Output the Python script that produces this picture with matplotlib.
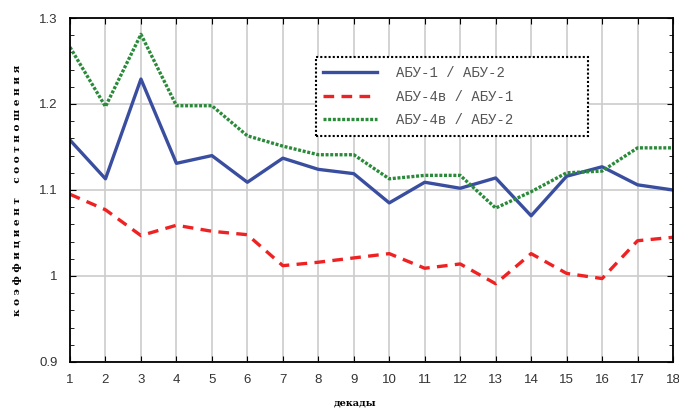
import matplotlib
matplotlib.use('Agg')
import matplotlib.pyplot as plt
from matplotlib.patches import Rectangle
from matplotlib.ticker import MultipleLocator

# декады
decades = list(range(1, 19))

abu1_abu2 = [1.158, 1.113, 1.229, 1.131, 1.140, 1.109, 1.137, 1.124, 1.119,
             1.085, 1.109, 1.102, 1.114, 1.070, 1.116, 1.127, 1.106, 1.100]
abu4v_abu1 = [1.095, 1.077, 1.047, 1.059, 1.052, 1.048, 1.012, 1.016, 1.021,
              1.026, 1.009, 1.014, 0.991, 1.026, 1.003, 0.997, 1.041, 1.045]
abu4v_abu2 = [1.266, 1.197, 1.281, 1.198, 1.198, 1.163, 1.151, 1.141, 1.141,
              1.113, 1.117, 1.117, 1.079, 1.098, 1.120, 1.122, 1.149, 1.149]

labels = ['АБУ-1 / АБУ-2', 'АБУ-4в / АБУ-1', 'АБУ-4в / АБУ-2']
yticks = [0.9, 1.0, 1.1, 1.2, 1.3]
ytick_labels = ['0.9', '1', '1.1', '1.2', '1.3']

plt.rcParams['font.family'] = ['Liberation Sans', 'DejaVu Sans']

fig = plt.figure(figsize=(6.79, 4.12), dpi=100)
ax = fig.add_axes([0.1031, 0.1214, 0.8881, 0.8349])

ax.plot(decades, abu1_abu2, color='#3a4ea0', lw=2.4, label=labels[0])
ax.plot(decades, abu4v_abu1, color='#ee2222', lw=2.4, dashes=(3.2, 2.2), label=labels[1])
ax.plot(decades, abu4v_abu2, color='#2a8a3a', lw=2.4, dashes=(0.9, 0.5), label=labels[2])

ax.set_xlim(1, 18)
ax.set_ylim(0.9, 1.3)
ax.set_xticks(decades)
ax.set_yticks(yticks)
ax.set_yticklabels(ytick_labels)
ax.yaxis.set_minor_locator(MultipleLocator(0.02))
ax.grid(True, which='major', color='#cccccc', lw=1.2)
ax.set_axisbelow(True)
ax.tick_params(which='both', direction='in', top=True, right=True,
               labelsize=9.5, labelcolor='#333333', length=4, pad=9)
ax.tick_params(which='minor', length=3)
for s in ax.spines.values():
    s.set_linewidth(1.3)

ax.set_ylabel('к о э ф ф и ц и е н т    с о о т н о ш е н и я',
              fontsize=7.5, fontweight='bold', family='DejaVu Serif', labelpad=12)
fig.text(0.523, 0.015, 'декады', fontsize=7, fontweight='bold',
         family='DejaVu Serif', ha='center')

# legend box
ax.add_patch(Rectangle((0.408, 0.657), 0.451, 0.230, transform=ax.transAxes,
                       facecolor='white', edgecolor='black', lw=1.5,
                       linestyle=(0, (1, 1)), zorder=4))
leg = ax.legend(loc='upper left', bbox_to_anchor=(0.412, 0.872), frameon=False,
                prop={'family': 'Liberation Mono', 'size': 10},
                handlelength=3.9, handletextpad=1.4, labelspacing=0.68,
                borderpad=0.3, borderaxespad=0)
leg.set_zorder(5)
for t in leg.get_texts():
    t.set_color('#555555')

fig.savefig('out.png', dpi=100)
